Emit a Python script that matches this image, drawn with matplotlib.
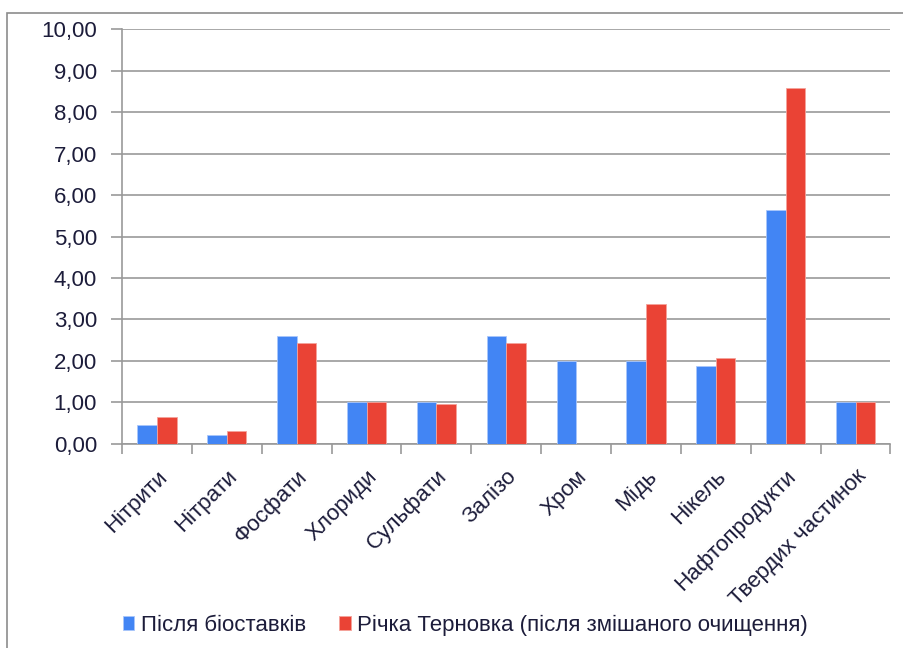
import numpy as np
import matplotlib.pyplot as plt
from matplotlib.patches import Rectangle
from matplotlib.ticker import FuncFormatter

plt.rcParams['font.family'] = ['Liberation Sans', 'DejaVu Sans']

categories = ['Нітрити', 'Нітрати', 'Фосфати', 'Хлориди', 'Сульфати', 'Залізо',
              'Хром', 'Мідь', 'Нікель', 'Нафтопродукти', 'Твердих частинок']
after_ponds = [0.46, 0.22, 2.60, 1.00, 1.00, 2.60, 2.00, 2.00, 1.88, 5.64, 1.00]
river = [0.65, 0.30, 2.44, 1.00, 0.95, 2.44, 0.00, 3.37, 2.07, 8.58, 1.00]
series_names = ['Після біоставків', 'Річка Терновка (після змішаного очищення)']

text_col = '#1c1c3a'

fig = plt.figure(figsize=(9.04, 6.48), dpi=100)
# outer frame of the chart area
fig.patches.append(Rectangle((7 / 904, -0.05), 1.0, 1 - 13 / 648 + 0.05,
                             transform=fig.transFigure, fill=False,
                             edgecolor='#8c8c8c', linewidth=1.2))

ax = fig.add_axes([0.135, 0.315, 0.85, 0.64])
x = np.arange(len(categories))
w = 0.28
ax.bar(x - w / 2, after_ponds, w, color='#4285f4', edgecolor='#a9c6fb',
       linewidth=0.6, label=series_names[0], zorder=3)
ax.bar(x + w / 2, river, w, color='#ea4335', edgecolor='#f4a39b',
       linewidth=0.6, label=series_names[1], zorder=3)

ax.set_xlim(-0.5, len(categories) - 0.5)
ax.set_ylim(0, 10)
ax.set_yticks(np.arange(0, 11, 1))
ax.yaxis.set_major_formatter(FuncFormatter(lambda v, p: f'{v:.2f}'.replace('.', ',')))
ax.grid(axis='y', color='#999999', linewidth=1.2, zorder=0)

ax.set_xticks(x)
ax.set_xticklabels(categories, rotation=45, ha='right', rotation_mode='anchor')
ax.set_xticks(np.arange(-0.5, len(categories)), minor=True)
ax.tick_params(axis='x', which='major', length=0, pad=16, labelsize=16, labelcolor=text_col)
ax.tick_params(axis='x', which='minor', length=7, color='#999999', width=1.2)
ax.tick_params(axis='y', length=8, color='#999999', width=1.2, labelsize=16,
               labelcolor=text_col, pad=10)

for side in ['top', 'right']:
    ax.spines[side].set_visible(False)
for side in ['left', 'bottom']:
    ax.spines[side].set_color('#999999')
    ax.spines[side].set_linewidth(1.2)

leg = fig.legend(loc='center', bbox_to_anchor=(0.515, 0.035), ncol=2, frameon=False,
                 fontsize=16, handlelength=0.5, handleheight=0.6, handletextpad=0.3,
                 columnspacing=1.5)
for t in leg.get_texts():
    t.set_color(text_col)

fig.savefig('out.png', dpi=100)
